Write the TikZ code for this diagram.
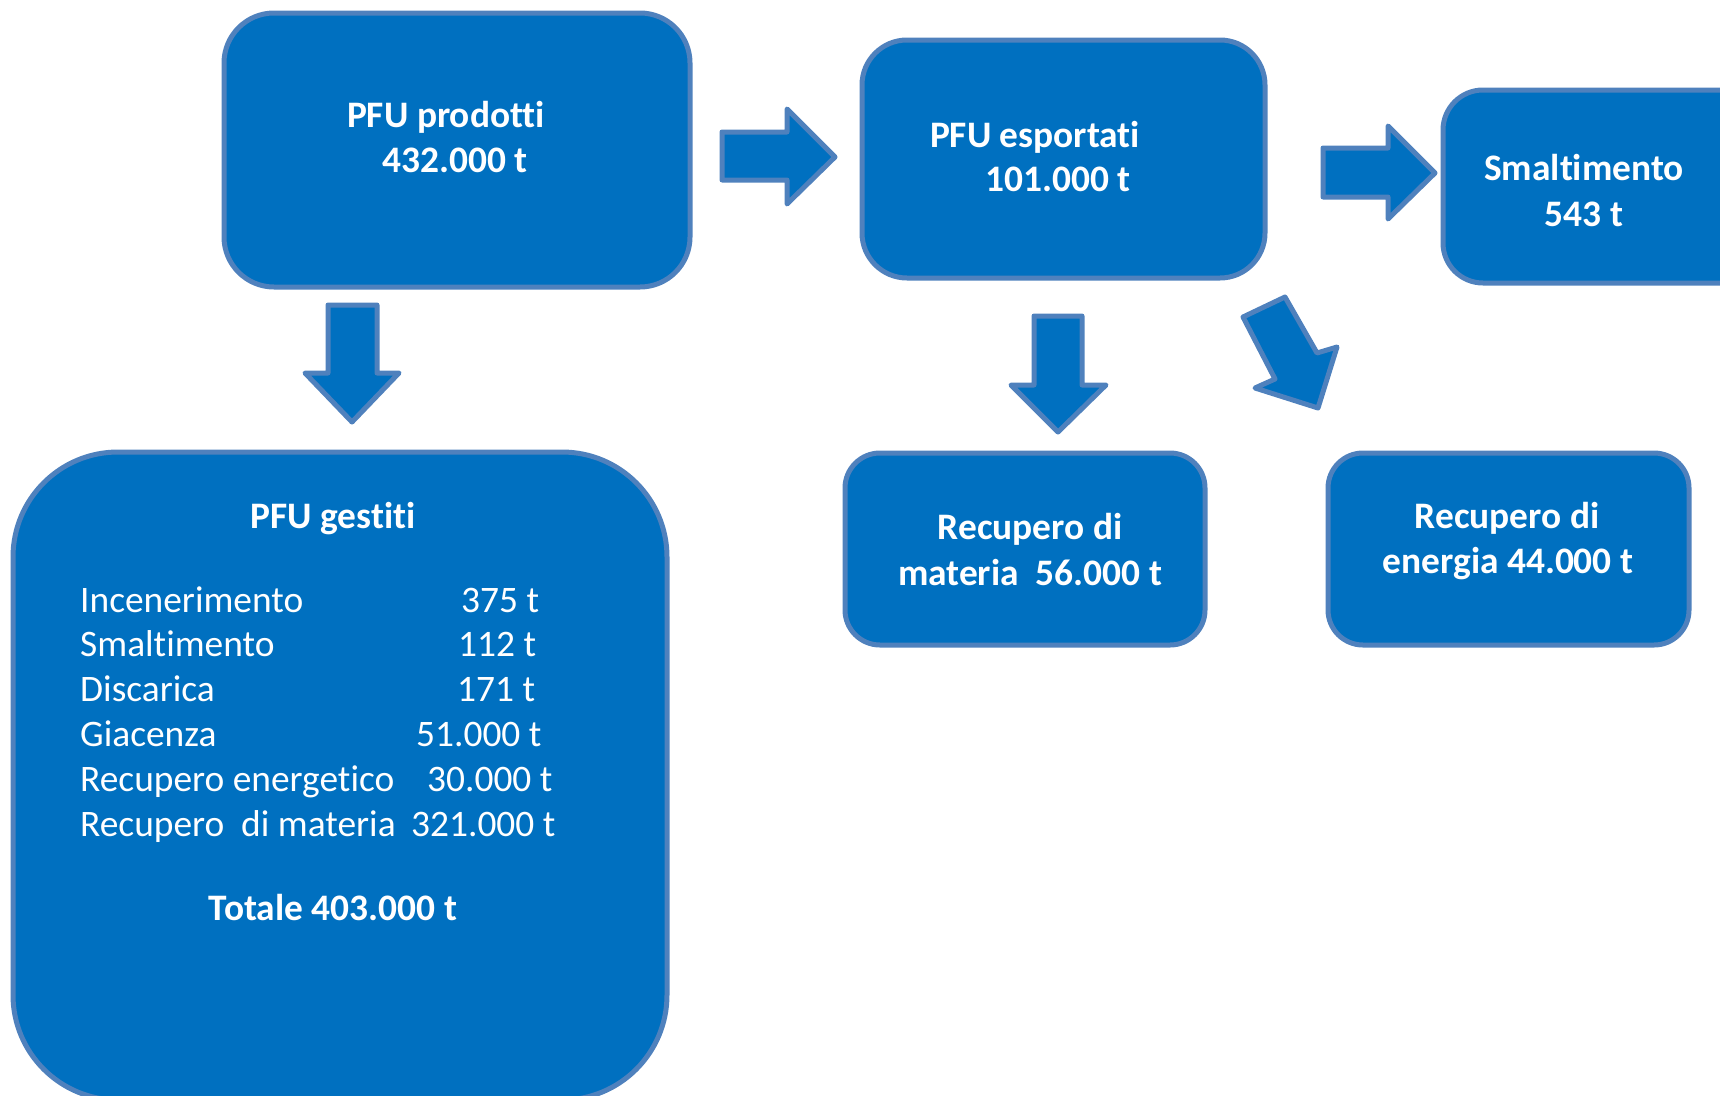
\documentclass[tikz,border=0pt]{standalone}
\usepackage{fontspec}
\setmainfont{Carlito}[Ligatures=NoCommon]
\definecolor{fillb}{HTML}{0070C0}
\definecolor{edgeb}{HTML}{4F81BD}
\begin{document}
\begin{tikzpicture}[x=1pt,y=-1pt,
  box/.style={draw=edgeb, fill=fillb, line width=5pt, inner sep=0pt, rectangle},
  blockarrow/.style={draw=edgeb, fill=fillb, line width=5pt, line join=round},
  bt/.style={text=white, font=\fontsize{37.4}{45}\selectfont\bfseries, inner sep=0pt, anchor=base},
  rt/.style={text=white, font=\fontsize{37.4}{45}\selectfont, inner sep=0pt, anchor=base west}]
\useasboundingbox (0,0) rectangle (1720,1095);
\clip (0,0) rectangle (1720,1095);

% boxes
\node[box, rounded corners=50pt, minimum width=466pt, minimum height=274pt] (prod) at (457,150) {};
\node[box, rounded corners=45pt, minimum width=403pt, minimum height=238pt] (esp) at (1063.5,159) {};
\node[box, rounded corners=40pt, minimum width=317pt, minimum height=193pt] (smal) at (1601.5,186.5) {};
\node[box, rounded corners=35pt, minimum width=360pt, minimum height=192pt] (mat) at (1025,549) {};
\node[box, rounded corners=35pt, minimum width=361pt, minimum height=192pt] (ene) at (1508.5,549) {};
\node[box, rounded corners=105pt, minimum width=654pt, minimum height=648pt] (gest) at (340,776) {};

% block arrows
\draw[blockarrow] (722,132) -- (787,132) -- (787,109) -- (835,157) -- (787,204) -- (787,180) -- (722,180) -- cycle;
\draw[blockarrow] (1323,148) -- (1388,148) -- (1388,126) -- (1435,173) -- (1388,219) -- (1388,197) -- (1323,197) -- cycle;
\draw[blockarrow] (328,305) -- (377,305) -- (377,373) -- (399,373) -- (352,422) -- (305,373) -- (328,373) -- cycle;
\draw[blockarrow] (1034,316) -- (1082,316) -- (1082,385) -- (1106,385) -- (1058,432) -- (1011,385) -- (1034,385) -- cycle;
\draw[blockarrow] (1243,317) -- (1285,297) -- (1317,353) -- (1337,347) -- (1318,408) -- (1255,388) -- (1275,379) -- cycle;

% texts
\node[bt] (prod1) at (446,127) {PFU prodotti};
\node[bt] (prod2) at (455,172) {432.000 t};
\node[bt] (esp1) at (1035,147) {PFU esportati};
\node[bt] (esp2) at (1058,191) {101.000 t};
\node[bt] (smal1) at (1584,180) {Smaltimento};
\node[bt] (smal2) at (1584,226) {543 t};
\node[bt] (mat1) at (1030,539) {Recupero di};
\node[bt] (mat2) at (1030,585) {materia\ \ 56.000 t};
\node[bt] (ene1) at (1507,528) {Recupero di};
\node[bt] (ene2) at (1508,573) {energia 44.000 t};

\node[bt] (gtitle) at (333,528) {PFU gestiti};
\node[rt] (g1) at (80,612) {Incenerimento};
\node[rt] (g2) at (80,656.8) {Smaltimento};
\node[rt] (g3) at (80,701.6) {Discarica};
\node[rt] (g4) at (80,746.4) {Giacenza};
\node[rt] (g5) at (80,791.2) {Recupero energetico};
\node[rt] (g6) at (80,836) {Recupero\ \ di materia};
\node[rt] (v1) at (461,612) {375 t};
\node[rt] (v2) at (458,656.8) {112 t};
\node[rt] (v3) at (457,701.6) {171 t};
\node[rt] (v4) at (416,746.4) {51.000 t};
\node[rt] (v5) at (427,791.2) {30.000 t};
\node[rt] (v6) at (411,836) {321.000 t};
\node[bt] (gtot) at (333,920) {Totale 403.000 t};
\end{tikzpicture}
\end{document}
